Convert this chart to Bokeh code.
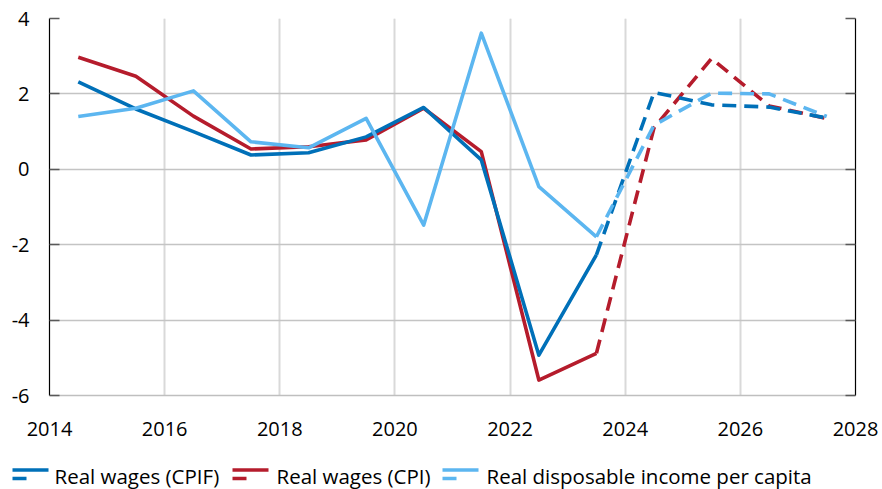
from bokeh.plotting import figure
from bokeh.models import Range1d, LinearAxis, FixedTicker, Label, Grid
from bokeh.layouts import column
from bokeh.embed import file_html
from bokeh.resources import INLINE

years = [2014.5, 2015.5, 2016.5, 2017.5, 2018.5, 2019.5, 2020.5,
         2021.5, 2022.5, 2023.5, 2024.5, 2025.5, 2026.5, 2027.5]
cpif = [2.32, 1.60, 1.00, 0.38, 0.44, 0.86, 1.64, 0.25, -4.93, -2.27, 2.04, 1.71, 1.65, 1.36]
cpi = [2.97, 2.47, 1.41, 0.54, 0.60, 0.78, 1.62, 0.47, -5.59, -4.88, 1.10, 2.94, 1.68, 1.35]
disp = [1.40, 1.62, 2.08, 0.73, 0.57, 1.35, -1.48, 3.61, -0.46, -1.79, 1.17, 2.02, 2.00, 1.40]
last_outcome = 9  # index of 2023; forecasts (dashed) start from here

x_ticks = [2014, 2016, 2018, 2020, 2022, 2024, 2026, 2028]
x_tick_labels = ["2014", "2016", "2018", "2020", "2022", "2024", "2026", "2028"]
y_ticks = [-6, -4, -2, 0, 2, 4]
y_tick_labels = ["-6", "-4", "-2", "0", "2", "4"]

series_names = ["Real wages (CPIF)", "Real wages (CPI)", "Real disposable income per capita"]
colors = ["#0070B8", "#B51C2C", "#5CB6F0"]

FONT = "Open Sans"
W = 882
H_MAIN = 455
H_LEG = 34

p = figure(width=W, height=H_MAIN, output_backend="svg", toolbar_location=None,
           x_range=Range1d(2014, 2028), y_range=Range1d(-6, 4),
           x_axis_location=None, y_axis_location=None,
           min_border_left=49, min_border_right=27, min_border_top=18, min_border_bottom=60)
p.frame_align = False
p.outline_line_color = None
p.background_fill_color = "white"
p.border_fill_color = "white"

# axes
left = LinearAxis(ticker=FixedTicker(ticks=y_ticks))
left.axis_line_color = "#000000"
left.axis_line_width = 1.2
left.major_tick_in = 10
left.major_tick_out = 0
left.minor_tick_line_color = None
left.major_tick_line_color = "#595959"
left.major_tick_line_width = 1.5
left.major_label_standoff = 20
left.major_label_overrides = dict(zip(y_ticks, y_tick_labels))
left.major_label_text_font = FONT
left.major_label_text_font_size = "20px"
left.major_label_text_color = "#000000"
p.add_layout(left, "left")

right = LinearAxis(ticker=FixedTicker(ticks=y_ticks))
right.axis_line_color = "#000000"
right.axis_line_width = 1.2
right.major_tick_in = 10
right.major_tick_out = 0
right.minor_tick_line_color = None
right.major_tick_line_color = "#595959"
right.major_tick_line_width = 1.5
right.major_label_overrides = {t: "" for t in y_ticks}
right.major_label_text_font_size = "1px"
right.major_label_standoff = 0
p.add_layout(right, "right")

bottom = LinearAxis(ticker=FixedTicker(ticks=x_ticks))
bottom.axis_line_color = "#BFBFBF"
bottom.axis_line_width = 1.5
bottom.major_tick_in = 0
bottom.major_tick_out = 0
bottom.minor_tick_line_color = None
bottom.major_tick_line_color = None
bottom.major_label_standoff = 26
bottom.major_label_overrides = dict(zip(x_ticks, x_tick_labels))
bottom.major_label_text_font = FONT
bottom.major_label_text_font_size = "20px"
bottom.major_label_text_color = "#000000"
p.add_layout(bottom, "below")

# grids
p.add_layout(Grid(dimension=0, ticker=FixedTicker(ticks=x_ticks),
                  grid_line_color="#D9D9D9", grid_line_width=2))
p.add_layout(Grid(dimension=1, ticker=FixedTicker(ticks=y_ticks),
                  grid_line_color="#C4C4C4", grid_line_width=1.3))

# lines: draw order red, dark blue, light blue
data = [cpif, cpi, disp]
for i in [1, 0, 2]:
    vals = data[i]
    p.line(years[:last_outcome + 1], vals[:last_outcome + 1], line_color=colors[i],
           line_width=3.6, line_join="round")
    p.line(years[last_outcome:], vals[last_outcome:], line_color=colors[i],
           line_width=3.6, line_join="round", line_dash="14 8")

# legend strip (coordinates = picture pixels)
lg = figure(width=W, height=H_LEG, output_backend="svg", toolbar_location=None,
            x_range=Range1d(0, W), y_range=Range1d(H_MAIN + H_LEG, H_MAIN),
            x_axis_location=None, y_axis_location=None,
            min_border=0, min_border_left=0, min_border_right=0,
            min_border_top=0, min_border_bottom=0)
lg.frame_align = False
lg.outline_line_color = None
lg.xgrid.visible = False
lg.ygrid.visible = False
lg.background_fill_color = "white"
lg.border_fill_color = "white"

sym_x = [12, 232, 442]
text_x = [54, 276, 486]
for i in range(3):
    x0 = sym_x[i]
    lg.segment(x0=[x0], y0=[469.5], x1=[x0 + 36], y1=[469.5], line_color=colors[i], line_width=3.4)
    lg.segment(x0=[x0, x0 + 22], y0=[478], x1=[x0 + 14, x0 + 36], y1=[478],
               line_color=colors[i], line_width=3.4)
    lg.add_layout(Label(x=text_x[i], y=475, text=series_names[i], text_font=FONT,
                        text_font_size="20.5px", text_baseline="alphabetic",
                        text_align="left", text_color="#000000"))

layout = column(p, lg, spacing=0)
open("out.html", "w").write(file_html(layout, INLINE))
